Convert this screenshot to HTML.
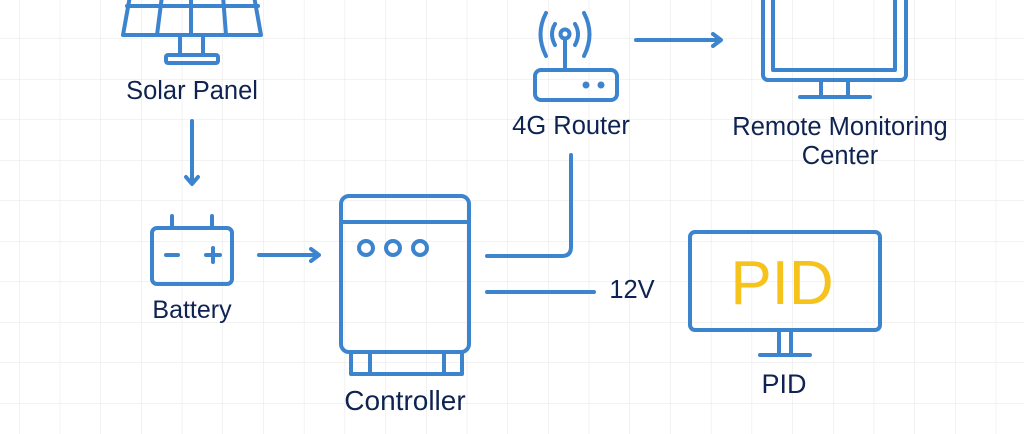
<!DOCTYPE html>
<html><head><style>
html,body{margin:0;padding:0;background:#fff}
svg{display:block}
text{font-family:"Liberation Sans",sans-serif;fill:#0f2352}
</style></head><body>
<svg width="1024" height="434" viewBox="0 0 1024 434" xmlns="http://www.w3.org/2000/svg">
<defs>
<pattern id="g" x="19" y="-2" width="40.7" height="40.5" patternUnits="userSpaceOnUse">
<path d="M0 0V40.5M0 0H40.7" stroke="#e6e6e6" stroke-width="1" fill="none"/>
</pattern>
</defs>
<rect width="1024" height="434" fill="url(#g)"/>
<g fill="none" stroke="#3d84cf" stroke-width="4" stroke-linecap="round" stroke-linejoin="round">
<path d="M130 -4 L123 35 H261 L254 -4"/>
<path d="M127 6 H258"/>
<path d="M162 -4 L157 35 M191 -4 V35 M223 -4 L226 35"/>
<path d="M180 37 V55 M203 37 V55"/>
<rect x="166" y="55" width="52" height="8" rx="2"/>
<path d="M192 121 V183 M186 177 L192 184 L198 177"/>
<rect x="152" y="228" width="80" height="56" rx="5"/>
<path d="M172 216 V228 M212 216 V228"/>
<path d="M166 255 H178 M206 255 H220 M213 248 V262"/>
<path d="M259 255 H318 M311 249 L319 255 L311 261"/>
<rect x="341" y="196" width="128" height="156" rx="8"/>
<path d="M343 222 H467"/>
<circle cx="366" cy="248" r="7"/><circle cx="393" cy="248" r="7"/><circle cx="420" cy="248" r="7"/>
<rect x="351" y="352" width="111" height="22"/>
<path d="M370 352 V374 M444 352 V374"/>
<path d="M487 256 H562 Q571 256 571 247 V155"/>
<path d="M487 292 H594"/>
<circle cx="565" cy="34" r="4.5"/>
<path d="M565 39 V70"/>
<rect x="535" y="70" width="82" height="30" rx="6"/>
<circle cx="586" cy="85" r="1.5" fill="#3d84cf"/><circle cx="601" cy="85" r="1.5" fill="#3d84cf"/>
<path d="M555 24 Q549 34 555 45 M575 24 Q581 34 575 45"/>
<path d="M546 13 Q535 34 546 56 M584 13 Q595 34 584 56"/>
<path d="M636 40 H720 M713 34 L721 40 L713 46"/>
<rect x="763" y="-10" width="143" height="90" rx="5"/>
<rect x="773" y="-10" width="122" height="80"/>
<path d="M821 80 V97 M848 80 V97 M800 97 H870"/>
<rect x="690" y="232" width="190" height="98" rx="5"/>
<path d="M779 330 V355 M791 330 V355 M760 355 H810"/>
</g>
<text x="192" y="99" font-size="25.5" text-anchor="middle">Solar Panel</text>
<text x="192" y="318" font-size="25" text-anchor="middle">Battery</text>
<text x="405" y="410" font-size="28" text-anchor="middle">Controller</text>
<text x="571" y="134" font-size="25.5" text-anchor="middle">4G Router</text>
<text x="840" y="135" font-size="25.5" text-anchor="middle">Remote Monitoring</text>
<text x="840" y="164" font-size="25.5" text-anchor="middle">Center</text>
<text x="632" y="298" font-size="25.5" text-anchor="middle">12V</text>
<text x="782" y="304" font-size="62" text-anchor="middle" style="fill:#f6c21c">PID</text>
<text x="784" y="393" font-size="27" text-anchor="middle">PID</text>
</svg>
</body></html>
